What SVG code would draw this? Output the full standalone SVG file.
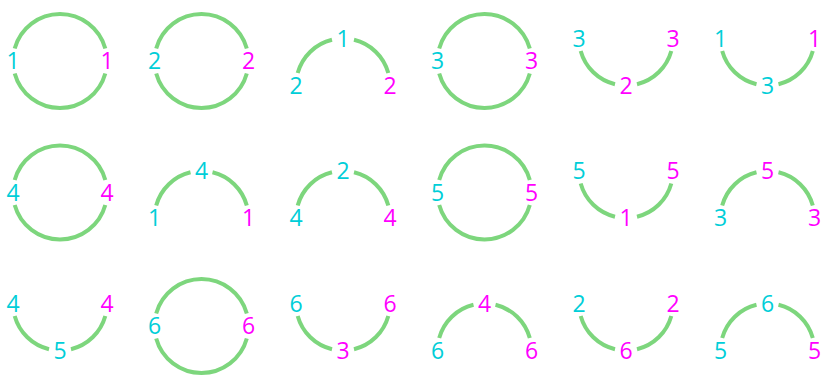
<svg xmlns="http://www.w3.org/2000/svg" xmlns:xlink="http://www.w3.org/1999/xlink" width="822" height="381" viewBox="0 0 822 381">
<style>
.arc{fill:none;stroke:#7dd67d;stroke-width:4;stroke-linecap:butt}
text{font-family:"Open Sans","Noto Sans","DejaVu Sans",sans-serif;font-size:23px;text-anchor:middle}
.c{fill:#00ced8}
.m{fill:#ff00ff}
</style>
<defs>
<path id="full" class="arc" d="M -45.3,-12.5 A 47 47 0 0 1 45.3,-12.5 M 45.3,12.5 A 47 47 0 0 1 -45.3,12.5"/>
<path id="top" class="arc" d="M -45.3,-12.5 A 47 47 0 0 1 -11,-45.7 M 11,-45.7 A 47 47 0 0 1 45.3,-12.5"/>
<path id="bot" class="arc" d="M -45.3,12.5 A 47 47 0 0 0 -11,45.7 M 11,45.7 A 47 47 0 0 0 45.3,12.5"/>
</defs>
<rect width="822" height="381" fill="#ffffff"/>

<!-- Row 1 -->
<g id="r1c1" transform="translate(60,61)"><use href="#full"/><text class="c" x="-47" y="8.3">1</text><text class="m" x="47" y="8.3">1</text></g>
<g id="r1c2" transform="translate(201.5,61)"><use href="#full"/><text class="c" x="-47" y="8.3">2</text><text class="m" x="47" y="8.3">2</text></g>
<g id="r1c3" transform="translate(343,85.5)"><use href="#top"/><text class="c" x="0" y="-38.7">1</text><text class="c" x="-47" y="8.3">2</text><text class="m" x="47" y="8.3">2</text></g>
<g id="r1c4" transform="translate(484.5,61)"><use href="#full"/><text class="c" x="-47" y="8.3">3</text><text class="m" x="47" y="8.3">3</text></g>
<g id="r1c5" transform="translate(626,38.5)"><use href="#bot"/><text class="c" x="-47" y="8.3">3</text><text class="m" x="47" y="8.3">3</text><text class="m" x="0" y="55.3">2</text></g>
<g id="r1c6" transform="translate(767.5,38.5)"><use href="#bot"/><text class="c" x="-47" y="8.3">1</text><text class="m" x="47" y="8.3">1</text><text class="c" x="0" y="55.3">3</text></g>

<!-- Row 2 -->
<g id="r2c1" transform="translate(60,192.5)"><use href="#full"/><text class="c" x="-47" y="8.3">4</text><text class="m" x="47" y="8.3">4</text></g>
<g id="r2c2" transform="translate(201.5,218)"><use href="#top"/><text class="c" x="0" y="-38.7">4</text><text class="c" x="-47" y="8.3">1</text><text class="m" x="47" y="8.3">1</text></g>
<g id="r2c3" transform="translate(343,218)"><use href="#top"/><text class="c" x="0" y="-38.7">2</text><text class="c" x="-47" y="8.3">4</text><text class="m" x="47" y="8.3">4</text></g>
<g id="r2c4" transform="translate(484.5,192.5)"><use href="#full"/><text class="c" x="-47" y="8.3">5</text><text class="m" x="47" y="8.3">5</text></g>
<g id="r2c5" transform="translate(626,171)"><use href="#bot"/><text class="c" x="-47" y="8.3">5</text><text class="m" x="47" y="8.3">5</text><text class="m" x="0" y="55.3">1</text></g>
<g id="r2c6" transform="translate(767.5,218)"><use href="#top"/><text class="m" x="0" y="-38.7">5</text><text class="c" x="-47" y="8.3">3</text><text class="m" x="47" y="8.3">3</text></g>

<!-- Row 3 -->
<g id="r3c1" transform="translate(60,303.5)"><use href="#bot"/><text class="c" x="-47" y="8.3">4</text><text class="m" x="47" y="8.3">4</text><text class="c" x="0" y="55.3">5</text></g>
<g id="r3c2" transform="translate(201.5,326)"><use href="#full"/><text class="c" x="-47" y="8.3">6</text><text class="m" x="47" y="8.3">6</text></g>
<g id="r3c3" transform="translate(343,303.5)"><use href="#bot"/><text class="c" x="-47" y="8.3">6</text><text class="m" x="47" y="8.3">6</text><text class="m" x="0" y="55.3">3</text></g>
<g id="r3c4" transform="translate(484.5,350.5)"><use href="#top"/><text class="m" x="0" y="-38.7">4</text><text class="c" x="-47" y="8.3">6</text><text class="m" x="47" y="8.3">6</text></g>
<g id="r3c5" transform="translate(626,303.5)"><use href="#bot"/><text class="c" x="-47" y="8.3">2</text><text class="m" x="47" y="8.3">2</text><text class="m" x="0" y="55.3">6</text></g>
<g id="r3c6" transform="translate(767.5,350.5)"><use href="#top"/><text class="c" x="0" y="-38.7">6</text><text class="c" x="-47" y="8.3">5</text><text class="m" x="47" y="8.3">5</text></g>
</svg>
